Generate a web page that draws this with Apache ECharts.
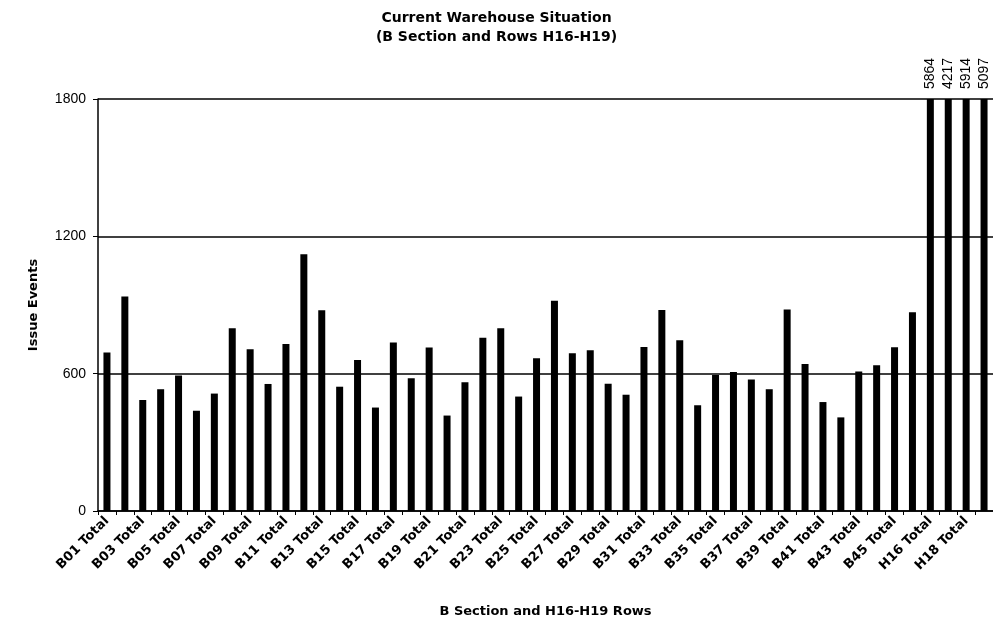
<!DOCTYPE html>
<html>

<head>
  <meta charset="UTF-8">
  <title>Current Warehouse Situation</title>
  <script src="https://cdn.jsdelivr.net/npm/echarts@6/dist/echarts.min.js"></script>
</head>

<body style="margin: 0;overflow: hidden;background: #fff;">
  <div id="chart" style="width: 993px;height: 625px"></div>
  <script type="text/javascript">
    // categories, one bar per row total
    var rows = [
      'B01 Total', 'B02 Total', 'B03 Total', 'B04 Total', 'B05 Total', 'B06 Total', 'B07 Total', 'B08 Total',
      'B09 Total', 'B10 Total', 'B11 Total', 'B12 Total', 'B13 Total', 'B14 Total', 'B15 Total', 'B16 Total',
      'B17 Total', 'B18 Total', 'B19 Total', 'B20 Total', 'B21 Total', 'B22 Total', 'B23 Total', 'B24 Total',
      'B25 Total', 'B26 Total', 'B27 Total', 'B28 Total', 'B29 Total', 'B30 Total', 'B31 Total', 'B32 Total',
      'B33 Total', 'B34 Total', 'B35 Total', 'B36 Total', 'B37 Total', 'B38 Total', 'B39 Total', 'B40 Total',
      'B41 Total', 'B42 Total', 'B43 Total', 'B44 Total', 'B45 Total', 'B46 Total',
      'H16 Total', 'H17 Total', 'H18 Total', 'H19 Total'
    ];
    var issueEvents = [
      692, 937, 485, 532, 592, 438, 513, 798,
      707, 555, 730, 1122, 877, 543, 660, 452,
      736, 580, 714, 417, 562, 757, 798, 500,
      667, 919, 689, 702, 556, 508, 717, 878,
      746, 462, 594, 607, 574, 532, 880, 642,
      476, 409, 610, 637, 715, 868,
      5864, 4217, 5914, 5097
    ];
    var yTicks = [0, 600, 1200, 1800];

    var axisMax = yTicks[yTicks.length - 1];
    var myChart = echarts.init(document.getElementById('chart'));
    var option = {
      animation: false,
      backgroundColor: '#fff',
      title: {
        text: 'Current Warehouse Situation\n(B Section and Rows H16-H19)',
        left: 'center',
        top: 4,
        textStyle: {
          fontFamily: 'DejaVu Sans',
          fontWeight: 'bold',
          fontSize: 14,
          lineHeight: 19,
          color: '#000'
        }
      },
      grid: {
        left: 98,
        right: 0,
        top: 99,
        bottom: 114
      },
      xAxis: {
        type: 'category',
        data: rows,
        name: 'B Section and H16-H19 Rows',
        nameLocation: 'middle',
        nameGap: 94,
        nameTextStyle: {
          fontFamily: 'DejaVu Sans',
          fontWeight: 'bold',
          fontSize: 13,
          color: '#000'
        },
        axisLine: { lineStyle: { color: '#000', width: 1.5 } },
        axisTick: { show: true, interval: 0, length: 4, lineStyle: { color: '#000' } },
        axisLabel: {
          interval: 1,
          rotate: 45,
          margin: 8,
          fontFamily: 'DejaVu Sans',
          fontWeight: 'bold',
          fontSize: 13,
          color: '#000'
        }
      },
      yAxis: {
        type: 'value',
        min: yTicks[0],
        max: axisMax,
        interval: 600,
        name: 'Issue Events',
        nameLocation: 'middle',
        nameRotate: 90,
        nameGap: 58,
        nameTextStyle: {
          fontFamily: 'DejaVu Sans',
          fontWeight: 'bold',
          fontSize: 13,
          color: '#000'
        },
        axisLine: { show: true, lineStyle: { color: '#000', width: 1.5 } },
        axisTick: { show: true, length: 5, lineStyle: { color: '#000' } },
        axisLabel: {
          margin: 12,
          fontFamily: 'Liberation Sans',
          fontSize: 14,
          color: '#000',
          formatter: function (v) {
            return String(v);
          }
        },
        splitLine: { lineStyle: { color: '#000', width: 1.5 } }
      },
      series: [{
        type: 'bar',
        data: issueEvents,
        barWidth: 7,
        clip: true,
        itemStyle: { color: '#000' },
        label: {
          show: true,
          position: 'top',
          rotate: 90,
          align: 'left',
          verticalAlign: 'middle',
          distance: 17,
          offset: [-7, 0],
          fontFamily: 'Liberation Sans',
          fontSize: 14,
          color: '#000',
          formatter: function (p) {
            return p.value > axisMax ? String(p.value) : '';
          }
        }
      }]
    };
    myChart.setOption(option);
  </script>
</body>

</html>
